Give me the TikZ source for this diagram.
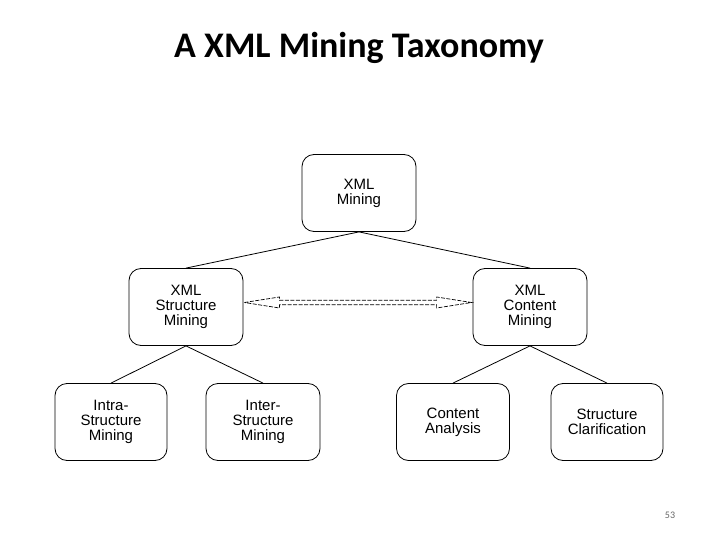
\documentclass[tikz,border=0pt]{standalone}
\usepackage{fontspec}
\setmainfont{Liberation Sans}
\newfontfamily\titlefont{Carlito}
\usetikzlibrary{calc}
\begin{document}
\begin{tikzpicture}[x=1pt,y=-1pt,
  box/.style={draw, rounded corners=12pt, minimum width=114pt, minimum height=77pt, align=center,
    font=\fontsize{15}{15}\selectfont, line width=0.8pt, inner sep=2pt},
  link/.style={line width=0.8pt}]
\useasboundingbox (0,0) rectangle (720,540);
\node[font=\titlefont\bfseries\fontsize{36}{40}\selectfont, anchor=base] (title) at (359,58) {A XML Mining Taxonomy};
\node[box] (xm) at (359,193) {XML\\Mining};
\node[box] (xsm) at (186,307) {XML\\Structure\\Mining};
\node[box] (xcm) at (530,307) {XML\\Content\\Mining};
\node[box, minimum width=112pt] (intra) at (111,422) {Intra-\\Structure\\Mining};
\node[box] (inter) at (263,422) {Inter-\\Structure\\Mining};
\node[box, minimum width=113pt] (ca) at (453,422) {Content\\Analysis};
\node[box, minimum width=112pt] (sc) at (607,422) {Structure\\Clarification};
\draw[link] (xm.south) -- (xsm.north);
\draw[link] (xm.south) -- (xcm.north);
\draw[link] (xsm.south) -- (intra.north);
\draw[link] (xsm.south) -- (inter.north);
\draw[link] (xcm.south) -- (ca.north);
\draw[link] (xcm.south) -- (sc.north);
\coordinate (al) at ($(xsm.east)+(1,-4.5)$);
\coordinate (ar) at ($(xcm.west)+(-1,-4.5)$);
\draw[line width=0.7pt, dash pattern=on 4pt off 1.5pt]
  (al) -- ($(al)+(35,-5.5)$) -- ($(al)+(35,-2.3)$) -- ($(ar)+(-35,-2.3)$) -- ($(ar)+(-35,-5.5)$) -- (ar)
  -- ($(ar)+(-35,5.5)$) -- ($(ar)+(-35,2.3)$) -- ($(al)+(35,2.3)$) -- ($(al)+(35,5.5)$) -- cycle;
\node[font=\titlefont\fontsize{10}{12}\selectfont, text=black!60] (pg) at (670,515) {53};
\end{tikzpicture}
\end{document}
